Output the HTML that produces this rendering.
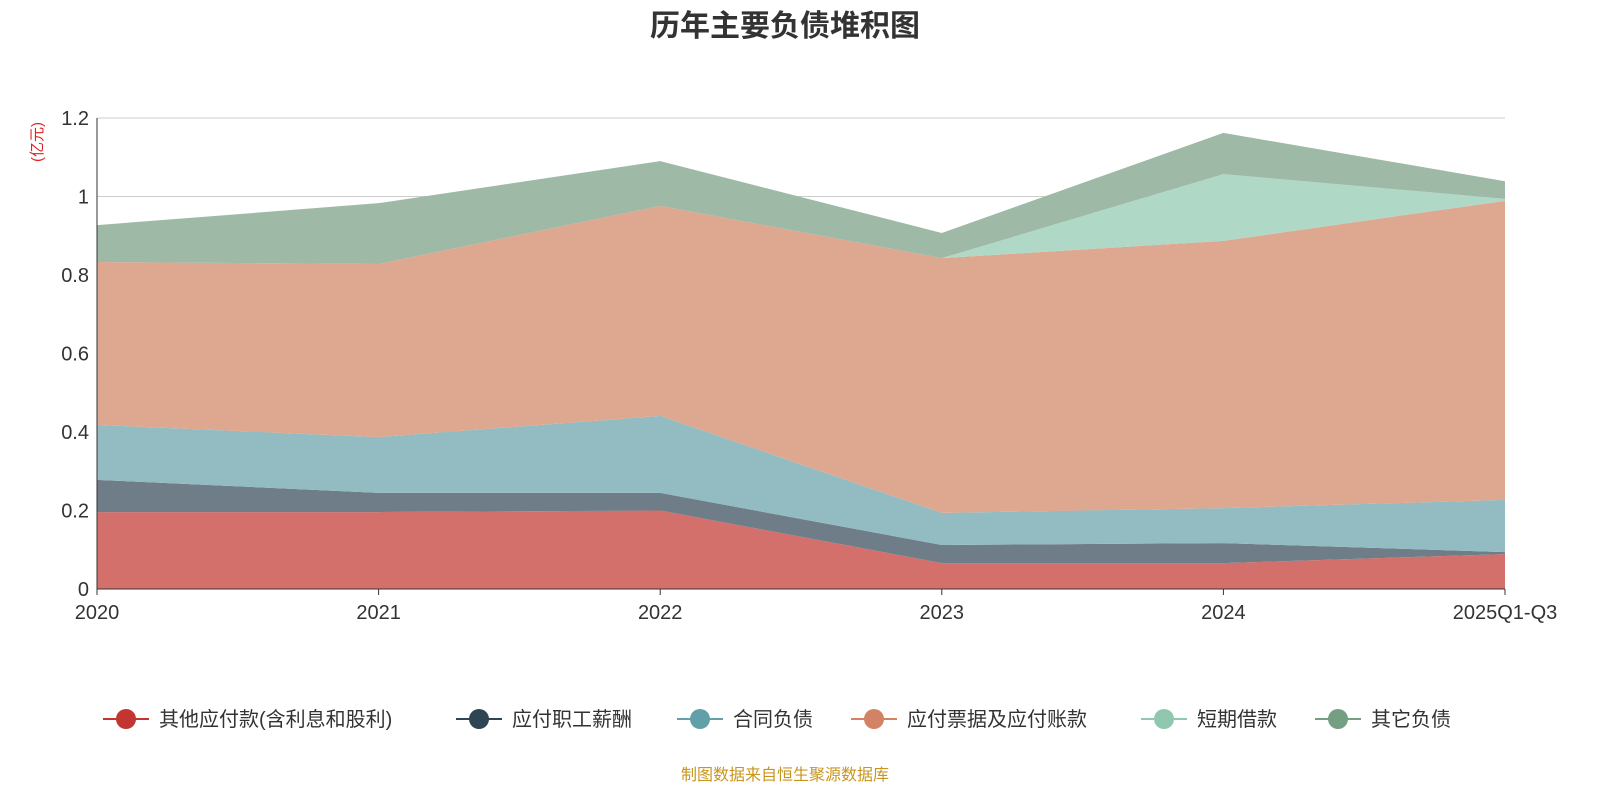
<!DOCTYPE html>
<html><head><meta charset="utf-8">
<style>
body{margin:0;background:#fff;font-family:"Liberation Sans","Noto Sans CJK SC",sans-serif;}
svg text{font-family:"Liberation Sans","Noto Sans CJK SC",sans-serif;}
</style></head>
<body>
<svg id="chart" width="1600" height="800">
<text x="785" y="36" text-anchor="middle" font-size="30" font-weight="bold" fill="#333">历年主要负债堆积图</text>
<text x="0" y="0" transform="translate(42,142) rotate(-90)" text-anchor="middle" font-size="15" fill="#e02020">(亿元)</text>
<g id="grid"></g>
<g id="areas"></g>
<g id="axes"></g>
<g id="legend"></g>
<text x="785" y="780" text-anchor="middle" font-size="16" fill="#c8961e">制图数据来自恒生聚源数据库</text>
</svg>
<script>
const categories=["2020","2021","2022","2023","2024","2025Q1-Q3"];
const seriesNames=["其他应付款(含利息和股利)","应付职工薪酬","合同负债","应付票据及应付账款","短期借款","其它负债"];
const otherPayables=[0.196,0.196,0.200,0.066,0.066,0.089];
const staffPay=[0.082,0.049,0.045,0.046,0.051,0.005];
const contractLiab=[0.140,0.142,0.196,0.082,0.089,0.133];
const accountsPayable=[0.415,0.441,0.535,0.649,0.681,0.762];
const shortLoans=[0,0,0,0,0.170,0.005];
const otherLiab=[0.094,0.155,0.114,0.064,0.105,0.045];
const yTicks=[0,0.2,0.4,0.6,0.8,1,1.2];
const yTickLabels=["0","0.2","0.4","0.6","0.8","1","1.2"];

const series=[otherPayables,staffPay,contractLiab,accountsPayable,shortLoans,otherLiab];
const fills=["#d4706b","#6e7d88","#92bcc1","#dea790","#b0d8c6","#9eb9a6"];
const dots=["#c23531","#2f4554","#61a0a8","#d48265","#91c7ae","#749f83"];
const X0=97,X1=1505,Y0=589,Y1=118,YMAX=1.2;
const xs=i=>X0+(X1-X0)*i/(categories.length-1);
const ys=v=>Y0-(Y0-Y1)*v/YMAX;
const NS="http://www.w3.org/2000/svg";
function mk(tag,attrs,parent){const e=document.createElementNS(NS,tag);for(const k in attrs)e.setAttribute(k,attrs[k]);parent.appendChild(e);return e;}
const grid=document.getElementById('grid'),areas=document.getElementById('areas'),axes=document.getElementById('axes'),legend=document.getElementById('legend');
yTicks.forEach((t,i)=>{
 if(t>0){const l=mk('line',{x1:X0,x2:X1,y1:ys(t),y2:ys(t),stroke:'#ccc','stroke-width':1},grid);
 
 }
 const tx=mk('text',{x:X0-8,y:ys(t)+7,'text-anchor':'end','font-size':20,fill:'#333'},axes);
 tx.textContent=yTickLabels[i];
 
 
});
let base=categories.map(()=>0);
series.forEach((s,si)=>{
 const top=base.map((b,i)=>b+s[i]);
 let d=top.map((v,i)=>(i?'L':'M')+xs(i)+','+ys(v)).join(' ');
 for(let i=categories.length-1;i>=0;i--)d+=' L'+xs(i)+','+ys(base[i]);
 const p=mk('path',{d:d+'Z',fill:fills[si],stroke:'none'},areas);
 
 
 base=top;
});
mk('line',{x1:X0,x2:X0,y1:Y1,y2:Y0,stroke:'#333','stroke-width':1},axes);
mk('line',{x1:X0,x2:X1,y1:Y0,y2:Y0,stroke:'#333','stroke-width':1},axes);
categories.forEach((c,i)=>{
 mk('line',{x1:xs(i),x2:xs(i),y1:Y0,y2:Y0+6,stroke:'#333'},axes);
 const tx=mk('text',{x:xs(i),y:Y0+30,'text-anchor':'middle','font-size':20,fill:'#333'},axes);
 tx.textContent=c;
 
 
});
const lx=[103,456,677,851,1141,1315];
seriesNames.forEach((n,i)=>{
 const g=mk('g',{},legend);
 
 
 mk('line',{x1:lx[i],x2:lx[i]+46,y1:719,y2:719,stroke:dots[i],'stroke-width':2},g);
 mk('circle',{cx:lx[i]+23,cy:719,r:10,fill:dots[i]},g);
 const t=mk('text',{x:lx[i]+56,y:726,'font-size':20,fill:'#333'},g);
 t.textContent=n;
});
</script>
</body></html>
